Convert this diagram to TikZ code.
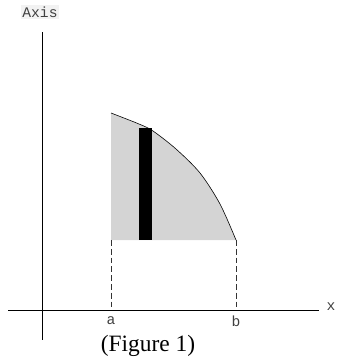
\documentclass[tikz,border=0pt]{standalone}
\usepackage{fontspec}
\setmainfont{Liberation Serif}
\newfontfamily\axisfont{Liberation Mono}
\usetikzlibrary{positioning}
\begin{document}
\begin{tikzpicture}[x=0.03cm, y=-0.03cm,
  lbl/.style={font=\axisfont\fontsize{12.5}{14}\selectfont, text=black!75, inner sep=1pt},
  guide/.style={black!80, line width=0.5pt, dash pattern=on 5pt off 2.5pt}]
\useasboundingbox (0,0) rectangle (337,358);

% axes
\coordinate (ytop) at (42,32);
\coordinate (ybot) at (42,340);
\coordinate (xleft) at (8,310);
\coordinate (xright) at (319,310);
\draw[line width=0.6pt] (ytop) -- (ybot);
\draw[line width=0.6pt] (xleft) -- (xright);

% area under the curve
\fill[black!17] (111,240) -- plot[smooth] coordinates {(111,113) (139,124) (153,131) (176,149) (200,173) (220,204) (236,240)} -- cycle;
\draw[line width=0.5pt] plot[smooth] coordinates {(111,113) (139,124) (153,131) (176,149) (200,173) (220,204) (236,240)};

% one strip
\fill[black] (139,128) rectangle (152,240);

% labels
\node[lbl, fill=black!5] (axis) at (40,12) {Axis};
\node[lbl] (xlab) at (331,307) {x};
\node[lbl] (a) at (111,321) {a};
\node[lbl] (b) at (236,321) {b};
\node (cap) at (148,346) {\fontsize{20}{24}\selectfont (Figure 1)};

% limits of integration
\coordinate (atop) at (111,240);
\coordinate (btop) at (236,240);
\draw[guide] (atop) -- (111,310);
\draw[guide] (btop) -- (236,310);
\end{tikzpicture}
\end{document}
